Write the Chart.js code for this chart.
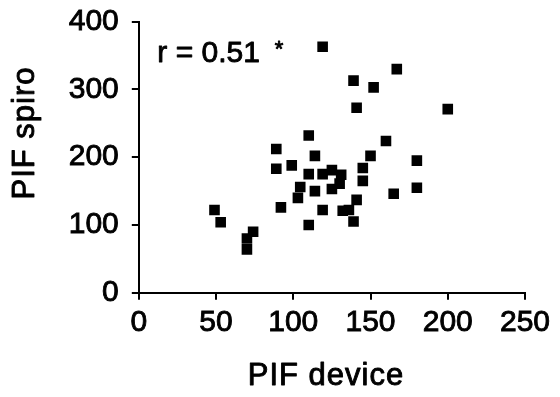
<!DOCTYPE html>
<html>
<head>
<meta charset="utf-8">
<script src="https://cdn.jsdelivr.net/npm/chart.js@4.4.0/dist/chart.umd.min.js"></script>
<style>
  html, body { margin: 0; padding: 0; background: #fff; }
  #wrap { width: 560px; height: 397px; }
</style>
</head>
<body>
<div id="wrap"><canvas id="c" width="560" height="397"></canvas></div>
<script>
// PIF measured with device (x) vs spirometer (y)
const pifDevice = [49, 53, 74, 70, 70, 89, 89, 92, 99, 104.5, 103, 110, 110, 110, 114, 114, 119, 119, 125, 131, 130, 125, 132, 136, 139, 141, 145, 145, 150, 160, 165, 180, 180, 119, 139, 141, 152, 167, 200];
const pifSpiro  = [122, 104, 90, 80, 64, 212, 183, 126, 188, 156, 140, 232, 175, 100, 202, 150, 175, 122, 181, 174, 161, 153, 121, 122, 105, 137, 184, 165, 202, 224, 146, 195, 155, 363, 313, 273, 303, 330, 271];
const xTicks = [0, 50, 100, 150, 200, 250];
const yTicks = [0, 100, 200, 300, 400];
const xTitle = 'PIF device';
const yTitle = 'PIF spiro';
const corrLabel = 'r = 0.51';
const corrMark = '*';

const points = pifDevice.map((v, i) => ({ x: v, y: pifSpiro[i] }));
const FONT = '"Liberation Sans", Arial, sans-serif';
const STROKE = 0.9;

function drawText(ctx, txt, x, y) {
  ctx.fillText(txt, x, y);
  ctx.strokeText(txt, x, y);
}

const textPlugin = {
  id: 'texts',
  afterDraw(chart) {
    const ctx = chart.ctx;
    const xs = chart.scales.x, ys = chart.scales.y;
    ctx.save();
    ctx.fillStyle = '#000';
    ctx.strokeStyle = '#000';
    ctx.lineWidth = STROKE;
    ctx.lineJoin = 'round';
    // correlation annotation
    ctx.font = '30px ' + FONT;
    ctx.textAlign = 'left';
    ctx.textBaseline = 'alphabetic';
    drawText(ctx, corrLabel, xs.getPixelForValue(12), ys.getPixelForValue(341));
    ctx.font = '22px ' + FONT;
    drawText(ctx, corrMark, xs.getPixelForValue(88), ys.getPixelForValue(350));
    // axis titles
    ctx.font = '31px ' + FONT;
    try { ctx.letterSpacing = '1px'; } catch (e) {}
    ctx.textAlign = 'center';
    ctx.textBaseline = 'middle';
    drawText(ctx, xTitle, 326, 376);
    ctx.translate(25, 133);
    ctx.rotate(-Math.PI / 2);
    drawText(ctx, yTitle, 0, 0);
    ctx.restore();
  }
};

new Chart(document.getElementById('c'), {
  type: 'scatter',
  data: {
    datasets: [{
      data: points,
      pointStyle: 'rect',
      pointRadius: 7.5,
      pointHoverRadius: 7.5,
      borderWidth: 0,
      backgroundColor: '#000',
      borderColor: '#000'
    }]
  },
  options: {
    responsive: false,
    animation: false,
    events: [],
    layout: { padding: { top: 21.7, right: 35, left: 0, bottom: 0 } },
    plugins: { legend: { display: false }, tooltip: { enabled: false } },
    scales: {
      x: {
        type: 'linear', min: 0, max: 250,
        afterBuildTicks: (s) => { s.ticks = xTicks.map(v => ({ value: v })); },
        afterFit: (s) => { s.height = 397 - 292.7; s.paddingLeft = 0; s.paddingRight = 0; },
        grid: { display: true, drawOnChartArea: false, drawTicks: true, tickLength: 7, color: '#000', lineWidth: 2 },
        border: { display: true, color: '#000', width: 2 },
        ticks: { color: '#000', padding: 5, maxRotation: 0, textStrokeColor: '#000', textStrokeWidth: STROKE, font: { family: FONT, size: 30 } }
      },
      y: {
        type: 'linear', min: 0, max: 400,
        afterBuildTicks: (s) => { s.ticks = yTicks.map(v => ({ value: v })); },
        afterFit: (s) => { s.width = 138.8; s.paddingTop = 0; s.paddingBottom = 0; },
        grid: { display: true, drawOnChartArea: false, drawTicks: true, tickLength: 7, color: '#000', lineWidth: 2 },
        border: { display: true, color: '#000', width: 2 },
        ticks: { color: '#000', padding: 13, textStrokeColor: '#000', textStrokeWidth: STROKE, font: { family: FONT, size: 30 } }
      }
    }
  },
  plugins: [textPlugin]
});
</script>
</body>
</html>
